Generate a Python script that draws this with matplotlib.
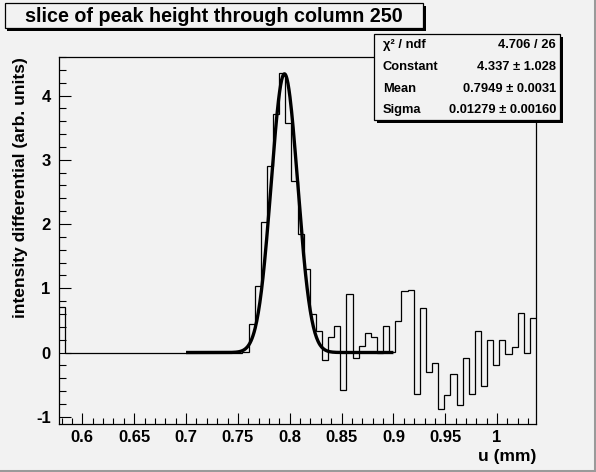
import numpy as np
import matplotlib
matplotlib.use("Agg")
import matplotlib.pyplot as plt
from matplotlib.patches import Rectangle
from matplotlib.lines import Line2D
from matplotlib.ticker import MultipleLocator, FixedLocator

# ---------------- data ----------------
x_min, x_max, n_bins = 0.5775, 1.0375, 78
values = [
    0.71, -0.01, 0.0, 0.0, 0.0, 0.0, 0.0, -0.015, 0.0, -0.015,
    0.0, 0.0, -0.015, 0.0, 0.0, -0.015, 0.0, 0.0, 0.0, 0.0,
    0.0, 0.0, 0.0, 0.0, 0.0, 0.0, 0.0, 0.0, 0.0, 0.0,
    0.01, 0.45, 1.04, 2.03, 2.90, 3.71, 4.35, 3.57, 2.67, 1.85,
    1.30, 0.60, 0.34, -0.11, 0.235, 0.42, -0.59, 0.91, -0.08, 0.094,
    0.30, 0.235, 0.0, 0.41, 0.015, 0.485, 0.955, 0.97, -0.64, 0.70,
    -0.30, -0.16, -0.88, -0.66, -0.33, -0.81, -0.09, -0.64, 0.34, -0.52,
    0.19, -0.19, 0.19, -0.03, 0.08, 0.61, 0.0, 0.53,
]
fit_constant, fit_mean, fit_sigma = 4.337, 0.7949, 0.01279
fit_range = (0.70, 0.90)

x_ticks = [0.6, 0.65, 0.7, 0.75, 0.8, 0.85, 0.9, 0.95, 1.0]
x_tick_labels = ["0.6", "0.65", "0.7", "0.75", "0.8", "0.85", "0.9", "0.95", "1"]
y_ticks = [-1, 0, 1, 2, 3, 4]
y_tick_labels = ["-1", "0", "1", "2", "3", "4"]

title = "slice of peak height through column 250"
x_label = "u (mm)"
y_label = "intensity differential (arb. units)"
stats_names = ["\u03c7\u00b2 / ndf", "Constant", "Mean", "Sigma"]
stats_values = ["4.706 / 26", "4.337 \u00b1 1.028", "0.7949 \u00b1 0.0031", "0.01279 \u00b1 0.00160"]

# ---------------- figure ----------------
W, H = 596, 472
BG = "#f2f2f2"
FONT = "Liberation Sans"
plt.rcParams["font.family"] = [FONT, "DejaVu Sans"]
plt.rcParams["font.weight"] = "bold"

fig = plt.figure(figsize=(W / 100, H / 100), dpi=100, facecolor=BG)

def fx(px):
    return px / W

def fy(py):
    return 1 - py / H

ax_l, ax_r, ax_t, ax_b = 59, 536, 56.7, 423.5
ax = fig.add_axes([fx(ax_l), fy(ax_b), fx(ax_r) - fx(ax_l), fy(ax_t) - fy(ax_b)])
ax.set_facecolor(BG)

edges = np.linspace(x_min, x_max, n_bins + 1)
ax.stairs(values, edges, baseline=None, color="black", linewidth=0.9)

xf = np.linspace(fit_range[0], fit_range[1], 400)
yf = fit_constant * np.exp(-0.5 * ((xf - fit_mean) / fit_sigma) ** 2)
ax.plot(xf, yf, color="black", linewidth=2.4, solid_capstyle="butt")

ax.set_xlim(x_min, x_max)
ax.set_ylim(-1.105, 4.604)

ax.xaxis.set_major_locator(FixedLocator(x_ticks))
ax.set_xticklabels(x_tick_labels)
ax.xaxis.set_minor_locator(MultipleLocator(0.01))
ax.yaxis.set_major_locator(FixedLocator(y_ticks))
ax.set_yticklabels(y_tick_labels)
ax.yaxis.set_minor_locator(MultipleLocator(0.2))

ax.tick_params(axis="x", which="major", direction="in", length=8, width=0.8, pad=5,
               labelsize=12, top=False)
ax.tick_params(axis="x", which="minor", direction="in", length=4, width=0.8, top=False)
ax.tick_params(axis="y", which="major", direction="in", length=8.6, width=0.8, pad=6,
               labelsize=12, right=False)
ax.tick_params(axis="y", which="minor", direction="in", length=4.7, width=0.8, right=False)
for lab in ax.get_xticklabels() + ax.get_yticklabels():
    lab.set_fontweight("bold")
for sp in ax.spines.values():
    sp.set_linewidth(0.9)

# axis titles
fig.text(fx(ax_r), fy(456), x_label, ha="right", va="center", fontsize=12.5, fontweight="bold")
fig.text(fx(21), fy(57), y_label, rotation=90, ha="center", va="top", fontsize=12.5,
         fontweight="bold")

# title box
def box(x0, y0, x1, y1):
    sh = 2.5
    fig.patches.append(Rectangle((fx(x0 + sh), fy(y1 + sh)), fx(x1 - x0), fy(y0) - fy(y1),
                                 transform=fig.transFigure, facecolor="black",
                                 edgecolor="none", zorder=5))
    fig.patches.append(Rectangle((fx(x0), fy(y1)), fx(x1 - x0), fy(y0) - fy(y1),
                                 transform=fig.transFigure, facecolor=BG,
                                 edgecolor="black", linewidth=0.9, zorder=6))

box(5, 3, 423, 28)
fig.text(fx(214), fy(16), title, ha="center", va="center", fontsize=14.2,
         fontweight="bold", zorder=7)

# stats box
box(374, 34, 560, 120)
rows_y = [45, 66.7, 89, 110]
for name, val, yy in zip(stats_names, stats_values, rows_y):
    fig.text(fx(382.7), fy(yy), name, ha="left", va="center", fontsize=9.3,
             fontweight="bold", zorder=7)
    fig.text(fx(556), fy(yy), val, ha="right", va="center", fontsize=9.3,
             fontweight="bold", zorder=7)

# canvas bevel
fig.lines.append(Line2D([fx(1), fx(W - 1)], [fy(H - 1.2)] * 2, transform=fig.transFigure,
                        color="#9a9a9a", linewidth=2.2))
fig.lines.append(Line2D([fx(W - 1.2)] * 2, [fy(0), fy(H)], transform=fig.transFigure,
                        color="#9a9a9a", linewidth=2.2))

fig.savefig("out.png", dpi=100, facecolor=BG)
